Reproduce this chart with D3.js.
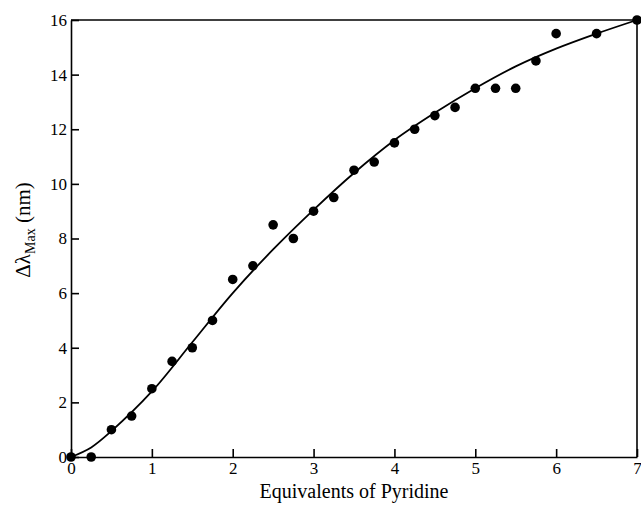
<!DOCTYPE html>
<html>
<head>
<meta charset="utf-8">
<script src="https://cdn.jsdelivr.net/npm/d3@7"></script>
<style>
  body { margin: 0; background: #fff; }
  svg { display: block; }
  text { font-family: "Liberation Serif", "DejaVu Serif", serif; fill: #000; }
</style>
</head>
<body>
<div id="chart"></div>
<script>
// measured points: equivalents of pyridine vs shift (nm)
const equivalents = [0, 0.25, 0.5, 0.75, 1, 1.25, 1.5, 1.75, 2, 2.25, 2.5, 2.75, 3, 3.25,
  3.5, 3.75, 4, 4.25, 4.5, 4.75, 5, 5.25, 5.5, 5.75, 6, 6.5, 7];
const shift = [0, 0, 1, 1.5, 2.5, 3.5, 4, 5, 6.5, 7, 8.5, 8, 9, 9.5,
  10.5, 10.8, 11.5, 12, 12.5, 12.8, 13.5, 13.5, 13.5, 14.5, 15.5, 15.5, 16];

// fitted curve
const fitX = [0, 0.25, 0.5, 1, 1.5, 2, 2.5, 3, 3.5, 4, 4.5, 5, 5.5, 6, 6.5, 7];
const fitY = [0, 0.35, 0.95, 2.4, 4.2, 6.0, 7.6, 9.05, 10.4, 11.6, 12.6, 13.5, 14.3, 14.95, 15.5, 16];

const xTicks = [0, 1, 2, 3, 4, 5, 6, 7];
const yTicks = [0, 2, 4, 6, 8, 10, 12, 14, 16];

const width = 641, height = 508;
const margin = { left: 71, right: 4, top: 20, bottom: 51 };

const svg = d3.select('#chart').append('svg')
  .attr('width', width)
  .attr('height', height);

const x = d3.scaleLinear().domain([0, 7]).range([margin.left, width - margin.right]);
const y = d3.scaleLinear().domain([0, 16]).range([height - margin.bottom, margin.top]);

// frame: top and right lines
svg.append('line')
  .attr('x1', x(0)).attr('x2', x(7))
  .attr('y1', y(16)).attr('y2', y(16))
  .attr('stroke', '#000').attr('stroke-width', 1.6);
svg.append('line')
  .attr('x1', x(7)).attr('x2', x(7))
  .attr('y1', y(16)).attr('y2', y(0))
  .attr('stroke', '#000').attr('stroke-width', 1.6);

// axes with inward ticks
const xAxis = svg.append('g')
  .attr('transform', `translate(0,${y(0)})`)
  .call(d3.axisBottom(x).tickValues(xTicks).tickFormat(d3.format('d'))
    .tickSize(-8).tickPadding(5).tickSizeOuter(0));
const yAxis = svg.append('g')
  .attr('transform', `translate(${x(0)},0)`)
  .call(d3.axisLeft(y).tickValues(yTicks).tickFormat(d3.format('d'))
    .tickSize(-8).tickPadding(4).tickSizeOuter(0));

[xAxis, yAxis].forEach(g => {
  g.attr('font-family', '"Liberation Serif", serif').attr('font-size', 17);
  g.select('.domain').attr('stroke-width', 1.6);
  g.selectAll('.tick line').attr('stroke-width', 1.6);
  g.selectAll('.tick text')
    .style('font-family', '"Liberation Serif", serif')
    .style('font-size', '17px');
});

// fit curve
const line = d3.line()
  .x((d, i) => x(fitX[i]))
  .y(d => y(d))
  .curve(d3.curveCatmullRom);
svg.append('path')
  .datum(fitY)
  .attr('d', line)
  .attr('fill', 'none')
  .attr('stroke', '#000')
  .attr('stroke-width', 1.8);

// data points
svg.append('g').selectAll('circle')
  .data(shift)
  .enter()
  .append('circle')
  .attr('cx', (d, i) => x(equivalents[i]))
  .attr('cy', d => y(d))
  .attr('r', 4.8)
  .attr('fill', '#000');

// axis titles
svg.append('text')
  .attr('x', (x(0) + x(7)) / 2)
  .attr('y', 498)
  .attr('text-anchor', 'middle')
  .style('font-size', '20px')
  .text('Equivalents of Pyridine');

const yTitle = svg.append('text')
  .attr('transform', `translate(30,${230}) rotate(-90)`)
  .attr('text-anchor', 'middle')
  .style('font-size', '21px');
yTitle.append('tspan').text('Δλ');
yTitle.append('tspan').attr('dy', 5).style('font-size', '14px').text('Max');
yTitle.append('tspan').attr('dy', -5).text(' (nm)');
</script>
</body>
</html>
